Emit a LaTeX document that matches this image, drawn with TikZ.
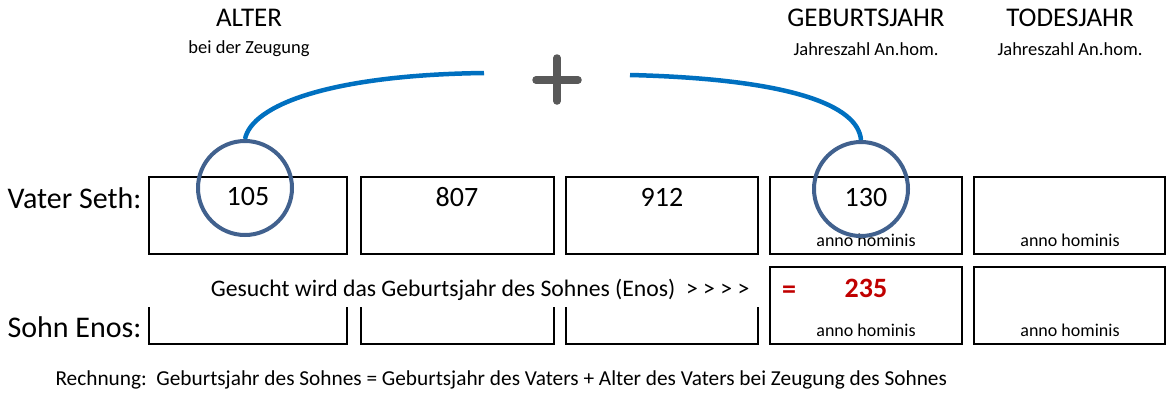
\documentclass[tikz,border=0pt]{standalone}
\usepackage{fontspec}
\setmainfont{Carlito}
\usepackage{xcolor}
\definecolor{arcblue}{HTML}{0070C0}
\definecolor{ringblue}{HTML}{41618E}
\definecolor{plusgray}{HTML}{595959}
\definecolor{resultred}{HTML}{C00000}
\usetikzlibrary{positioning,calc}

\begin{document}
\begin{tikzpicture}[x=1pt, y=-1pt,
    cell/.style={draw, line width=2pt, minimum height=77pt, inner sep=0pt},
    head/.style={font=\fontsize{27}{32}\selectfont},
    subhead/.style={font=\fontsize{18.5}{22}\selectfont},
    rowlabel/.style={font=\fontsize{30}{35}\selectfont},
    num/.style={font=\fontsize{28}{33}\selectfont},
    unit/.style={font=\fontsize{18}{22}\selectfont},
    ring/.style={circle, draw=ringblue, line width=4pt, minimum size=94pt, inner sep=0pt},
    link/.style={draw=arcblue, line width=4.5pt}]
  \useasboundingbox (0,0) rectangle (1167,394);

  % column heads
  \node[head] (hAlter) at (249,18) {ALTER};
  \node[subhead] (sAlter) at (249,49) {bei der Zeugung};
  \node[head] (hGeburt) at (866,18) {GEBURTSJAHR};
  \node[subhead] (sGeburt) at (866,49) {Jahreszahl An.hom.};
  \node[head] (hTod) at (1070,18) {TODESJAHR};
  \node[subhead] (sTod) at (1070,49) {Jahreszahl An.hom.};

  % father row
  \node[rowlabel, anchor=east] (vater) at (145,198) {Vater Seth:};
  \node[cell, minimum width=198pt] (v1) at (248,215.5) {};
  \node[cell, minimum width=193pt] (v2) at (457.5,215.5) {};
  \node[cell, minimum width=192pt] (v3) at (662,215.5) {};
  \node[cell, minimum width=192pt] (v4) at (866,215.5) {};
  \node[cell, minimum width=191pt] (v5) at (1069.5,215.5) {};
  \node[num] (alter) at (248,197) {105};
  \node[num] (leben) at (457,197) {807};
  \node[num] (tod) at (662,197) {912};
  \node[num] (geburt) at (866,198) {130};
  \node[unit] (ah1) at (866,240) {anno hominis};
  \node[unit] (ah2) at (1070,240) {anno hominis};

  % son row
  \node[rowlabel, anchor=east] (sohn) at (145,327) {Sohn Enos:};
  \draw[line width=2pt] (149,307) |- (347,344) -- (347,307);
  \draw[line width=2pt] (361,307) |- (554,344) -- (554,307);
  \draw[line width=2pt] (566,307) |- (758,344) -- (758,307);
  \node[cell, minimum width=192pt] (s4) at (866,305.5) {};
  \node[cell, minimum width=191pt] (s5) at (1069.5,305.5) {};
  \node[font=\fontsize{23.7}{28}\selectfont, anchor=east] (frage) at (753,290) {Gesucht wird das Geburtsjahr des Sohnes (Enos)\ \ > > > >};
  \node[font=\bfseries\fontsize{28}{33}\selectfont, text=resultred] (gleich) at (789,292) {=};
  \node[font=\bfseries\fontsize{28}{33}\selectfont, text=resultred] (ergebnis) at (866,288) {235};
  \node[unit] (ah3) at (866,330) {anno hominis};
  \node[unit] (ah4) at (1070,330) {anno hominis};

  % rings and plus
  \node[ring] (rAlter) at (245,188) {};
  \node[ring] (rGeburt) at (861,189) {};
  \draw[plusgray, line width=7.5pt, line cap=round] (536,80) -- (578,80) (557,58) -- (557,101);
  \coordinate (linksEnde) at (484,73);
  \coordinate (rechtsEnde) at (630,75);
  \draw[link] (linksEnde) .. controls (330,75) and (252,105) .. (rAlter.north);
  \draw[link] (rechtsEnde) .. controls (790,79) and (858,105) .. (rGeburt.north);

  \node[font=\fontsize{21.3}{25}\selectfont, anchor=west] (rechnung) at (52,380) {Rechnung:\ \ Geburtsjahr des Sohnes = Geburtsjahr des Vaters + Alter des Vaters bei Zeugung des Sohnes};
\end{tikzpicture}
\end{document}
